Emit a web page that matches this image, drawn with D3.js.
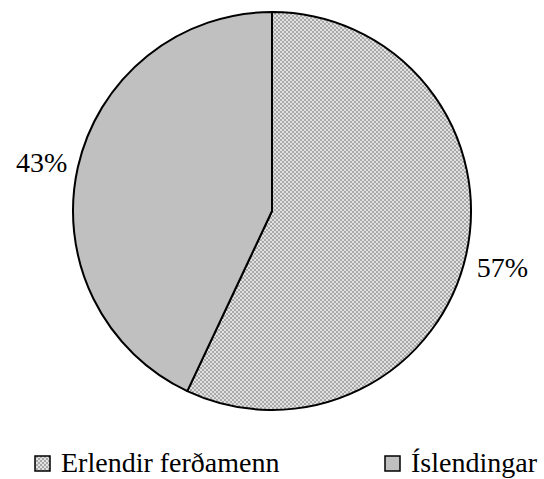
<!DOCTYPE html>
<html lang="is"><head><meta charset="utf-8">
<script src="https://cdn.jsdelivr.net/npm/d3@7"></script>
</head><body style="margin:0;background:#fff">
<script>
const categories = ["Erlendir ferðamenn", "Íslendingar"];
const values = [57, 43];
const labels = ["57%", "43%"];

const W = 544, H = 479;
const cx = 272, cy = 211, R = 199;
const FONT = "'Liberation Serif','Tinos','Times New Roman','DejaVu Serif',serif";
try { document.fonts.load("28px 'Liberation Serif'"); } catch (e) {}
const svg = d3.select("body").append("svg").attr("width", W).attr("height", H).style("display","block");
const defs = svg.append("defs");
const pat = defs.append("pattern").attr("id","chk").attr("patternUnits","userSpaceOnUse")
  .attr("width",4).attr("height",4);
pat.append("rect").attr("width",4).attr("height",4).attr("fill","#e2e2e2");
pat.append("rect").attr("x",0).attr("y",0).attr("width",2).attr("height",2).attr("fill","#a8a8a8");
pat.append("rect").attr("x",2).attr("y",2).attr("width",2).attr("height",2).attr("fill","#a8a8a8");
const fills = ["url(#chk)", "#c0c0c0"];

const pie = d3.pie().sort(null).value(d => d)(values);
const arc = d3.arc().innerRadius(0).outerRadius(R);
const g = svg.append("g").attr("transform", `translate(${cx},${cy})`);
g.selectAll("path.s").data(pie).join("path").attr("class","s")
  .attr("d", arc).attr("fill", (d,i) => fills[i])
  .attr("stroke","#000").attr("stroke-width",2).attr("stroke-linejoin","round");

const labArc = d3.arc().innerRadius(236).outerRadius(236);
pie.forEach((d,i) => {
  const c = labArc.centroid(d);
  const t = svg.append("text").attr("x", cx + c[0]).attr("y", cy + c[1] + (i===0 ? 15 : 12))
    .attr("text-anchor","middle")
    .style("font-family", FONT).style("font-size","28px")
    .text(labels[i]);
  getComputedStyle(t.node()).fontFamily;
});

const legX = [35, 385];
categories.forEach((c,i) => {
  svg.append("rect").attr("x", legX[i]).attr("y", 456).attr("width",15).attr("height",15)
    .attr("fill", fills[i]).attr("stroke","#000").attr("stroke-width",1.5);
  const t = svg.append("text").attr("x", legX[i] + 26).attr("y", 472)
    .style("font-family", FONT).style("font-size","28px")
    .text(c);
  getComputedStyle(t.node()).fontFamily;
});
</script>
</body></html>
